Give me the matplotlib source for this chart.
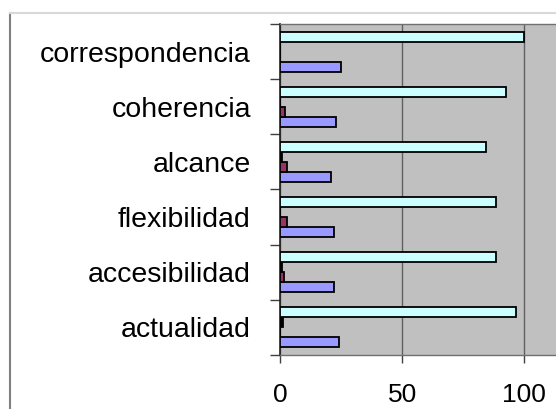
import numpy as np
import matplotlib
matplotlib.use('Agg')
import matplotlib.pyplot as plt
from matplotlib.lines import Line2D

# Categories listed bottom to top
categories = ["actualidad", "accesibilidad", "flexibilidad",
              "alcance", "coherencia", "correspondencia"]

# Series, drawn top to bottom inside each group
serie_cyan = [96.5, 88.5, 88.5, 84.5, 92.5, 100]
serie_negra = [1.2, 1.0, 0, 1.0, 0, 0]
serie_roja = [0, 1.8, 2.8, 2.7, 1.9, 0]
serie_azul = [24, 22, 22, 21, 23, 25]

x_ticks = [0, 50, 100]

plt.rcParams['font.family'] = ['Liberation Sans', 'DejaVu Sans']

fig = plt.figure(figsize=(5.56, 4.09), dpi=100)
ax = fig.add_axes([280 / 556, 1 - 355 / 409, 400 / 556, 331 / 409])
ax.set_facecolor('#C0C0C0')

y = np.arange(len(categories))
w = 0.182
series = [(serie_azul, '#9999FF', -1.5), (serie_roja, '#993366', -0.5),
          (serie_negra, '#000000', 0.5), (serie_cyan, '#CCFFFF', 1.5)]
for vals, color, off in series:
    ax.barh(y + off * w, vals, height=w, color=color,
            edgecolor='black', linewidth=1.3, zorder=3)

ax.set_xlim(0, 400 / 2.443)
ax.set_ylim(-0.5, len(categories) - 0.5)

# Vertical gridlines at major ticks
ax.set_xticks(x_ticks)
ax.set_xticklabels([str(t) for t in x_ticks], fontsize=19)
ax.grid(axis='x', color='#606060', linewidth=1.0, zorder=1)

# Category labels centred, tick marks at group boundaries
ax.set_yticks(y)
ax.set_yticklabels(categories, fontsize=20.5)
ax.set_yticks(np.arange(-0.5, len(categories)), minor=True)
ax.tick_params(axis='y', which='major', length=0, pad=21)
ax.tick_params(axis='y', which='minor', length=7, width=1, color='#404040', direction='out')
ax.tick_params(axis='x', length=6, width=1, color='#404040', pad=14)

ax.spines['left'].set_color('#202020')
ax.spines['left'].set_linewidth(1.2)
for side in ['top', 'bottom']:
    ax.spines[side].set_color('#707070')
    ax.spines[side].set_linewidth(1.0)
ax.spines['right'].set_visible(False)

# Chart area frame
fig.add_artist(Line2D([9.5 / 556, 9.5 / 556], [0, 1 - 13 / 409],
                      transform=fig.transFigure, color='#808080', linewidth=1.5))
fig.add_artist(Line2D([9.5 / 556, 1], [1 - 13 / 409, 1 - 13 / 409],
                      transform=fig.transFigure, color='#D8D8D8', linewidth=1.5))

fig.savefig('out.png', dpi=100)
